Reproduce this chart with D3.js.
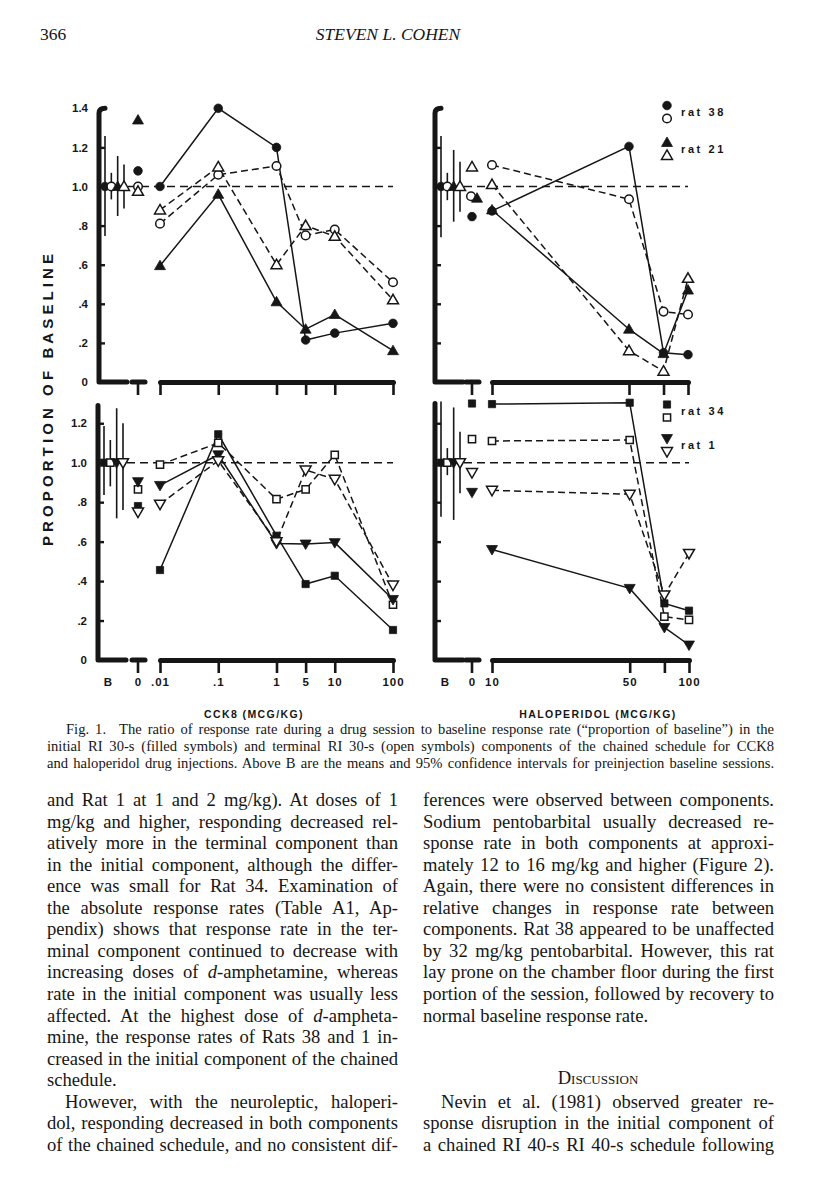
<!DOCTYPE html>
<html lang="en">
<head>
<meta charset="utf-8">
<title>Fig. 1 - proportion of baseline, CCK8 and haloperidol</title>
<script src="https://d3js.org/d3.v7.min.js"></script>
<style>
    body { margin: 0; background: #fff; }
    .serif { font-family: "Liberation Serif", "Times New Roman", serif; fill: #161616; }
    .lab { font-family: "Liberation Sans", Arial, sans-serif; font-weight: bold; fill: #161616; }
</style>
</head>
<body>
<svg id="page" width="816" height="1200"></svg>
<script>
    // dose levels and tick labels
    var cckDoses = [0.01, 0.1, 1, 5, 10, 100];
    var cckTickText = [".01", ".1", "1", "5", "10", "100"];
    var halDoses = [10, 50, 75, 100];
    var halTickText = ["10", "50", "", "100"];
    var topTicks = [0, 0.2, 0.4, 0.6, 0.8, 1.0, 1.2, 1.4];
    var bottomTicks = [0, 0.2, 0.4, 0.6, 0.8, 1.0, 1.2];
    var tickText = {0: "0", 0.2: ".2", 0.4: ".4", 0.6: ".6", 0.8: ".8", 1: "1.0", 1.2: "1.2", 1.4: "1.4"};

    // order inside each panel: rat A initial, rat A terminal, rat B initial, rat B terminal
    // CCK8, rats 38 / 21
    var cck38Initial = [1.00, 1.40, 1.20, 0.215, 0.25, 0.30];
    var cck38Terminal = [0.81, 1.06, 1.105, 0.75, 0.78, 0.51];
    var cck21Initial = [0.595, 0.96, 0.41, 0.27, 0.345, 0.16];
    var cck21Terminal = [0.88, 1.10, 0.60, 0.80, 0.745, 0.42];
    var cckSalineTop = [1.08, 1.00, 1.34, 0.975];
    var cckBaseCITop = [[0.747, 1.258], [0.934, 1.07], [0.849, 1.156], [0.888, 1.113]];

    // haloperidol, rats 38 / 21
    var hal38Initial = [0.875, 1.205, 0.15, 0.14];
    var hal38Terminal = [1.11, 0.935, 0.36, 0.345];
    var hal21Initial = [0.88, 0.27, 0.145, 0.47];
    var hal21Terminal = [1.01, 0.16, 0.055, 0.53];
    var halSalineTop = [0.846, 0.95, 0.94, 1.10];
    var halBaseCITop = [[0.74, 1.258], [0.93, 1.07], [0.82, 1.187], [0.871, 1.127]];

    // CCK8, rats 34 / 1
    var cck34Initial = [0.456, 1.144, 0.63, 0.385, 0.427, 0.152];
    var cck34Terminal = [0.99, 1.10, 0.815, 0.865, 1.04, 0.28];
    var cck1Initial = [0.885, 1.04, 0.59, 0.588, 0.595, 0.307];
    var cck1Terminal = [0.79, 1.01, 0.60, 0.963, 0.916, 0.38];
    var cckSalineBottom = [0.78, 0.865, 0.904, 0.75];
    var cckBaseCIBottom = [[0.836, 1.186], [0.88, 1.115], [0.718, 1.276], [0.76, 1.2]];

    // haloperidol, rats 34 / 1
    var hal34Initial = [1.297, 1.304, 0.287, 0.25];
    var hal34Terminal = [1.11, 1.115, 0.22, 0.203];
    var hal1Initial = [0.56, 0.363, 0.165, 0.076];
    var hal1Terminal = [0.86, 0.84, 0.33, 0.54];
    var halSalineBottom = [1.30, 1.12, 0.85, 0.95];
    var halBaseCIBottom = [[0.726, 1.31], [0.937, 1.074], [0.71, 1.28], [0.845, 1.157]];

    var baselineMean = 1.0;

    var symbolsTop = ["circle", "circle", "triangle", "triangle"];
    var symbolsBottom = ["square", "square", "down", "down"];
    var filled = [true, false, true, false];

    var ink = "#161616";
    var svg = d3.select("#page");

    // ---------------- page header ----------------
    svg.append("text").attr("class", "serif").attr("x", 40).attr("y", 40)
        .style("font-size", "17.5px").text("366");
    svg.append("text").attr("class", "serif").attr("x", 388).attr("y", 40)
        .attr("text-anchor", "middle").style("font-size", "17.5px").style("font-style", "italic")
        .text("STEVEN L. COHEN");

    // ---------------- figure ----------------
    // CCK8 doses are spaced one unit per decade, with 5 half way between 1 and 10
    function cckUnit(d) {
        return d === 5 ? 2.5 : Math.log10(d) + 2;
    }

    function makeX(drug, range) {
        if (drug === "cck") {
            var lin = d3.scaleLinear().domain([0, 4]).range(range);
            return function (d) { return lin(cckUnit(d)); };
        }
        return d3.scaleLog().domain([10, 100]).range(range);
    }

    function symbolPath(kind) {
        if (kind === "circle") return d3.symbol().type(d3.symbolCircle).size(58)();
        if (kind === "square") return d3.symbol().type(d3.symbolSquare).size(52)();
        return d3.symbol().type(d3.symbolTriangle).size(52)();
    }

    function drawMarker(g, kind, isFilled, cx, cy) {
        var rot = kind === "down" ? " rotate(180)" : "";
        var dy = kind === "triangle" ? 0.8 : (kind === "down" ? -0.8 : 0);
        g.append("path")
            .attr("d", symbolPath(kind))
            .attr("transform", "translate(" + cx + "," + (cy + dy) + ")" + rot)
            .attr("fill", isFilled ? ink : "#fff")
            .attr("stroke", ink)
            .attr("stroke-width", isFilled ? 0.8 : 1.5);
    }

    var panels = [
        {drug: "cck", doses: cckDoses, ticksText: cckTickText, axisX: 99, zeroX: 138, range: [160, 393],
            y0: 382, unit: 195.5, yMax: 1.4, ticks: topTicks, yLabels: true, hook: true, xLabels: false,
            symbols: symbolsTop, series: [cck38Initial, cck38Terminal, cck21Initial, cck21Terminal],
            saline: cckSalineTop, ci: cckBaseCITop},
        {drug: "hal", doses: halDoses, ticksText: halTickText, axisX: 435, zeroX: 472, range: [492, 688],
            y0: 382, unit: 195.5, yMax: 1.4, ticks: topTicks, yLabels: false, hook: true, xLabels: false,
            symbols: symbolsTop, series: [hal38Initial, hal38Terminal, hal21Initial, hal21Terminal],
            saline: halSalineTop, ci: halBaseCITop, salineShift: [0, -1, 5, 0],
            legend: [{y: 112, text: "rat 38"}, {y: 149, text: "rat 21"}]},
        {drug: "cck", doses: cckDoses, ticksText: cckTickText, axisX: 98, zeroX: 138, range: [160, 393],
            y0: 660, unit: 197.3, yMax: 1.29, ticks: bottomTicks, yLabels: true, hook: false, xLabels: true,
            symbols: symbolsBottom, series: [cck34Initial, cck34Terminal, cck1Initial, cck1Terminal],
            saline: cckSalineBottom, ci: cckBaseCIBottom},
        {drug: "hal", doses: halDoses, ticksText: halTickText, axisX: 435, zeroX: 472, range: [492, 689],
            y0: 660, unit: 197.3, yMax: 1.3, ticks: bottomTicks, yLabels: false, hook: false, xLabels: true,
            symbols: symbolsBottom, series: [hal34Initial, hal34Terminal, hal1Initial, hal1Terminal],
            saline: halSalineBottom, ci: halBaseCIBottom,
            legend: [{y: 411, text: "rat 34"}, {y: 445, text: "rat 1"}]}
    ];

    panels.forEach(function (p) {
        var g = svg.append("g");
        var y = d3.scaleLinear().domain([0, 1]).range([p.y0, p.y0 - p.unit]);
        var x = makeX(p.drug, p.range);

        // y axis ticks (pointing inward) and labels
        var yAxis = d3.axisLeft(y).tickValues(p.ticks).tickSize(-6).tickPadding(11)
            .tickFormat(function (d) { return p.yLabels ? tickText[Math.round(d * 10) / 10] : ""; });
        var ya = g.append("g").attr("transform", "translate(" + p.axisX + ",0)").call(yAxis);
        ya.select(".domain").remove();
        ya.selectAll(".tick line").attr("stroke", ink).attr("stroke-width", 2.4);
        ya.selectAll(".tick text").attr("fill", ink)
            .style("font-size", "11.5px").style("font-weight", "bold")
            .style("font-family", "'Liberation Sans', Arial, sans-serif");

        // y spine with the short base segment
        var yTop = y(p.yMax);
        var spine = d3.path();
        if (p.hook) {
            spine.moveTo(p.axisX + 6, yTop);
            spine.quadraticCurveTo(p.axisX, yTop, p.axisX, yTop + 5);
        } else {
            spine.moveTo(p.axisX, yTop);
        }
        spine.lineTo(p.axisX, p.y0);
        spine.lineTo(p.axisX + 28, p.y0);
        g.append("path").attr("d", spine.toString()).attr("fill", "none")
            .attr("stroke", ink).attr("stroke-width", 5).attr("stroke-linecap", "round")
            .attr("stroke-linejoin", "round");

        // saline ("0") marker: short bar with a stem
        var tm = d3.path();
        tm.moveTo(p.zeroX - 6, p.y0);
        tm.lineTo(p.zeroX + 7, p.y0);
        g.append("path").attr("d", tm.toString()).attr("stroke", ink).attr("stroke-width", 5)
            .attr("stroke-linecap", "round");
        g.append("line").attr("x1", p.zeroX).attr("x2", p.zeroX).attr("y1", p.y0).attr("y2", p.y0 + 13)
            .attr("stroke", ink).attr("stroke-width", 2.6);

        // dose axis
        var xScaleForAxis = p.drug === "cck"
            ? d3.scaleLinear().domain([0, 4]).range(p.range)
            : x;
        var xAxis = d3.axisBottom(xScaleForAxis)
            .tickValues(p.drug === "cck" ? p.doses.map(cckUnit) : p.doses)
            .tickSize(13).tickSizeOuter(0).tickPadding(5)
            .tickFormat(function (d, i) { return p.xLabels ? p.ticksText[i] : ""; });
        var xa = g.append("g").attr("transform", "translate(0," + p.y0 + ")").call(xAxis);
        xa.select(".domain").attr("stroke", ink).attr("stroke-width", 5).attr("stroke-linecap", "round");
        xa.selectAll(".tick line").attr("stroke", ink).attr("stroke-width", 2.6);
        xa.selectAll(".tick text").attr("fill", ink)
            .style("font-size", "11.5px").style("font-weight", "bold").style("letter-spacing", "1px")
            .style("font-family", "'Liberation Sans', Arial, sans-serif");

        if (p.xLabels) {
            var ly = p.y0 + 13 + 5;
            g.append("text").attr("class", "lab").attr("x", p.axisX + 10).attr("y", ly).attr("dy", "0.71em")
                .attr("text-anchor", "middle").style("font-size", "11.5px").text("B");
            g.append("text").attr("class", "lab").attr("x", p.zeroX).attr("y", ly).attr("dy", "0.71em")
                .attr("text-anchor", "middle").style("font-size", "11.5px").text("0");
        }

        // dashed reference at 1.0
        g.append("line").attr("x1", p.axisX + 3).attr("x2", p.range[1])
            .attr("y1", y(baselineMean)).attr("y2", y(baselineMean))
            .attr("stroke", ink).attr("stroke-width", 1.4).attr("stroke-dasharray", "8,5");

        // baseline means with 95% CI
        var xb = d3.scalePoint().domain([0, 1, 2, 3]).range([p.axisX + 6, p.axisX + 25]);
        p.ci.forEach(function (c, i) {
            g.append("line").attr("x1", xb(i)).attr("x2", xb(i)).attr("y1", y(c[0])).attr("y2", y(c[1]))
                .attr("stroke", ink).attr("stroke-width", 1.6);
        });

        // dose-effect lines
        var line = d3.line()
            .x(function (d, i) { return x(p.doses[i]); })
            .y(function (d) { return y(d); });
        p.series.forEach(function (s, i) {
            g.append("path").attr("d", line(s)).attr("fill", "none").attr("stroke", ink)
                .attr("stroke-width", 1.5)
                .attr("stroke-dasharray", filled[i] ? null : "7,4");
        });

        // markers: baseline means, saline, doses
        p.series.forEach(function (s, i) {
            var shift = p.salineShift ? p.salineShift[i] : 0;
            drawMarker(g, p.symbols[i], filled[i], xb(i), y(baselineMean));
            drawMarker(g, p.symbols[i], filled[i], p.zeroX + shift, y(p.saline[i]));
            s.forEach(function (v, j) {
                drawMarker(g, p.symbols[i], filled[i], x(p.doses[j]), y(v));
            });
        });

        // legend
        if (p.legend) {
            p.legend.forEach(function (L, k) {
                var sym = p.symbols[k * 2];
                drawMarker(g, sym, true, 667, L.y - 6.5);
                drawMarker(g, sym, false, 667, L.y + 6.5);
                g.append("text").attr("class", "lab").attr("x", 681).attr("y", L.y + 4)
                    .style("font-size", "11px").style("letter-spacing", "2.6px").text(L.text);
            });
        }
    });

    // axis titles
    svg.append("text").attr("class", "lab").attr("x", 254).attr("y", 718).attr("text-anchor", "middle")
        .style("font-size", "10.5px").style("letter-spacing", "1.4px").text("CCK8 (MCG/KG)");
    svg.append("text").attr("class", "lab").attr("x", 598).attr("y", 718).attr("text-anchor", "middle")
        .style("font-size", "10.5px").style("letter-spacing", "1.4px").text("HALOPERIDOL (MCG/KG)");
    svg.append("text").attr("class", "lab")
        .attr("transform", "translate(53,400) rotate(-90)").attr("text-anchor", "middle")
        .attr("textLength", 292).attr("lengthAdjust", "spacing")
        .style("font-size", "15px").text("PROPORTION OF BASELINE");

    // ---------------- caption and body text ----------------
    function justify(sel, width) {
        sel.each(function () {
            var n = this.getComputedTextLength();
            var spaces = (this.textContent.match(/ /g) || []).length;
            if (spaces) d3.select(this).attr("word-spacing", ((width - n) / spaces).toFixed(2));
        });
    }

    var caption = [
        "Fig. 1.\u2002 The ratio of response rate during a drug session to baseline response rate (\u201cproportion of baseline\u201d) in the",
        "initial RI 30-s (filled symbols) and terminal RI 30-s (open symbols) components of the chained schedule for CCK8",
        "and haloperidol drug injections. Above B are the means and 95% confidence intervals for preinjection baseline sessions."
    ];
    caption.forEach(function (t, i) {
        var x0 = i === 0 ? 66 : 47;
        var tx = svg.append("text").attr("class", "serif").attr("x", x0).attr("y", 734 + i * 17)
            .style("font-size", "14.6px").text(t);
        justify(tx, 774 - x0);
    });

    // body text lines; |d| marks an italic d
    var leftLines = [
        "and Rat 1 at 1 and 2 mg/kg). At doses of 1",
        "mg/kg and higher, responding decreased rel-",
        "atively more in the terminal component than",
        "in the initial component, although the differ-",
        "ence was small for Rat 34. Examination of",
        "the absolute response rates (Table A1, Ap-",
        "pendix) shows that response rate in the ter-",
        "minal component continued to decrease with",
        "increasing doses of |d|-amphetamine, whereas",
        "rate in the initial component was usually less",
        "affected. At the highest dose of |d|-ampheta-",
        "mine, the response rates of Rats 38 and 1 in-",
        "creased in the initial component of the chained",
        "schedule.",
        "However, with the neuroleptic, haloperi-",
        "dol, responding decreased in both components",
        "of the chained schedule, and no consistent dif-"
    ];
    var rightLines = [
        "ferences were observed between components.",
        "Sodium pentobarbital usually decreased re-",
        "sponse rate in both components at approxi-",
        "mately 12 to 16 mg/kg and higher (Figure 2).",
        "Again, there were no consistent differences in",
        "relative changes in response rate between",
        "components. Rat 38 appeared to be unaffected",
        "by 32 mg/kg pentobarbital. However, this rat",
        "lay prone on the chamber floor during the first",
        "portion of the session, followed by recovery to",
        "normal baseline response rate.",
        "", "", "",
        "Nevin et al. (1981) observed greater re-",
        "sponse disruption in the initial component of",
        "a chained RI 40-s RI 40-s schedule following"
    ];
    var ragged = {"schedule.": 1, "normal baseline response rate.": 1};
    var indented = {"However, with the neuroleptic, haloperi-": 1, "Nevin et al. (1981) observed greater re-": 1};
    var lineY0 = 806, lead = 21.56, colW = 351;

    function column(lines, x0) {
        lines.forEach(function (t, i) {
            if (!t) return;
            var ind = indented[t] ? 18 : 0;
            var tx = svg.append("text").attr("class", "serif").attr("x", x0 + ind)
                .attr("y", lineY0 + i * lead).style("font-size", "18.6px");
            t.split("|").forEach(function (part, k) {
                tx.append("tspan").style("font-style", k % 2 ? "italic" : null).text(part);
            });
            if (!ragged[t]) justify(tx, colW - ind);
        });
    }
    column(leftLines, 47);
    column(rightLines, 423);

    svg.append("text").attr("class", "serif").attr("x", 598).attr("y", lineY0 + 12.9 * lead)
        .attr("text-anchor", "middle").style("font-size", "18.6px").style("font-variant", "small-caps")
        .text("Discussion");
</script>
</body>
</html>
